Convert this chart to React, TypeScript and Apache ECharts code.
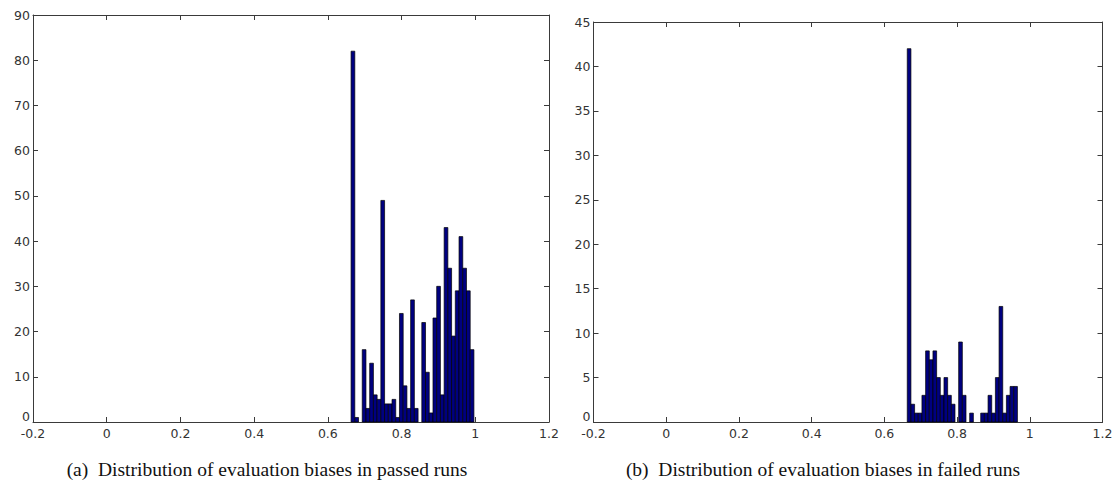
import React, { useEffect, useRef } from "react";
import * as echarts from "echarts";

// Histogram bin layout
const binStart = 0.663;
const binWidth = 0.0101;

// (a) passed runs: counts per bin
const passedCounts = [82, 1, 0, 16, 3, 13, 6, 5, 49, 4, 4, 5, 1, 24, 8, 3, 27, 3, 0, 22, 11, 2, 23, 30, 6, 43, 34, 19, 29, 41, 34, 29, 16];
// (b) failed runs: counts per bin
const failedCounts = [42, 2, 1, 1, 3, 8, 7, 8, 5, 3, 5, 3, 2, 0, 9, 3, 0, 1, 0, 0, 1, 1, 3, 1, 5, 13, 1, 3, 4, 4];

const xMin = -0.2;
const xMax = 1.2;
const xStep = 0.2;
const yMaxPassed = 90;
const yStepPassed = 10;
const yMaxFailed = 45;
const yStepFailed = 5;

const captionA = "(a)  Distribution of evaluation biases in passed runs";
const captionB = "(b)  Distribution of evaluation biases in failed runs";

const toBins = (counts: number[]) =>
  counts.map((c, i) => [binStart + i * binWidth, binStart + (i + 1) * binWidth, c]);

const lineColor = "#3a3a3a";
const labelStyle = { color: "#333", fontSize: 12.5, fontFamily: "DejaVu Sans" };

function axisBase(showLabel: boolean, margin: number) {
  return {
    axisLine: { show: true, onZero: false, lineStyle: { color: lineColor, width: 1 } },
    axisTick: { show: true, inside: true, length: 5, lineStyle: { color: lineColor, width: 1 } },
    splitLine: { show: false },
    axisLabel: { show: showLabel, margin, ...labelStyle },
  };
}

function xAx(gridIndex: number, position: string, showLabel: boolean) {
  return {
    type: "value",
    gridIndex,
    position,
    min: xMin,
    max: xMax,
    interval: xStep,
    ...axisBase(showLabel, 5),
  };
}

function yAx(gridIndex: number, position: string, showLabel: boolean, max: number, step: number) {
  const base: any = axisBase(showLabel, 3);
  base.axisLabel = {
    ...base.axisLabel,
    formatter: (v: number) => (v === 0 ? "{z|0}" : String(v)),
    rich: { z: { ...labelStyle, padding: [0, 0, 11, 0] } },
  };
  return {
    type: "value",
    gridIndex,
    position,
    min: 0,
    max,
    interval: step,
    ...base,
  };
}

const renderBar = (params: any, api: any) => {
  const count = api.value(2);
  if (!count) return null;
  const tl = api.coord([api.value(0), count]);
  const br = api.coord([api.value(1), 0]);
  return {
    type: "rect",
    shape: { x: tl[0], y: tl[1], width: br[0] - tl[0], height: br[1] - tl[1] },
    style: { fill: "#000080", stroke: "#000000", lineWidth: 0.7 },
  };
};

const captionStyle = {
  fill: "#111",
  fontFamily: "Liberation Serif",
  fontSize: 19.5,
  textAlign: "center",
  textVerticalAlign: "middle",
};

export default function App() {
  const ref = useRef<HTMLDivElement>(null);
  useEffect(() => {
    document.body.style.margin = "0";
    if (!ref.current) return;
    const chart = echarts.init(ref.current, undefined, { renderer: "svg" });
    chart.setOption({
      animation: false,
      backgroundColor: "#ffffff",
      grid: [
        { left: 33, top: 15, width: 516, height: 407 },
        { left: 593.5, top: 22, width: 509, height: 400 },
      ],
      xAxis: [
        xAx(0, "bottom", true),
        xAx(0, "top", false),
        xAx(1, "bottom", true),
        xAx(1, "top", false),
      ],
      yAxis: [
        yAx(0, "left", true, yMaxPassed, yStepPassed),
        yAx(0, "right", false, yMaxPassed, yStepPassed),
        yAx(1, "left", true, yMaxFailed, yStepFailed),
        yAx(1, "right", false, yMaxFailed, yStepFailed),
      ],
      series: [
        {
          type: "custom",
          xAxisIndex: 0,
          yAxisIndex: 0,
          renderItem: renderBar,
          encode: { x: [0, 1], y: 2 },
          data: toBins(passedCounts),
        },
        {
          type: "custom",
          xAxisIndex: 2,
          yAxisIndex: 2,
          renderItem: renderBar,
          encode: { x: [0, 1], y: 2 },
          data: toBins(failedCounts),
        },
      ],
      graphic: [
        { type: "text", x: 267, y: 469, style: { text: captionA, ...captionStyle } },
        { type: "text", x: 823, y: 469, style: { text: captionB, ...captionStyle } },
      ],
    });
    return () => chart.dispose();
  }, []);
  return <div ref={ref} style={{ width: 1119, height: 491 }} />;
}
